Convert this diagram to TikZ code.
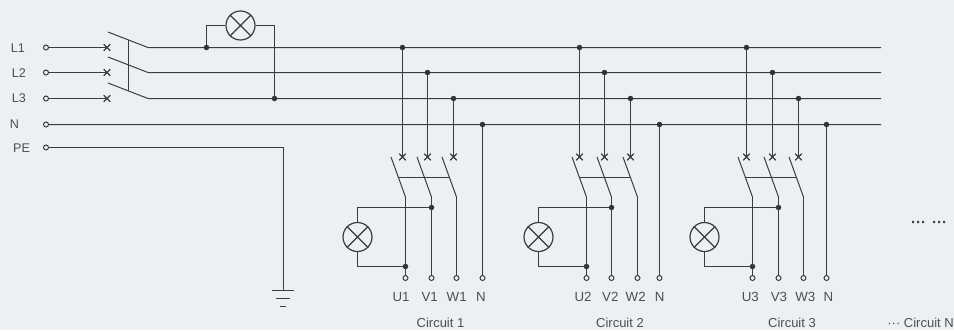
\documentclass[tikz,border=0pt]{standalone}
\usepackage{fontspec}
\setmainfont{Liberation Sans}
\usetikzlibrary{calc}
\definecolor{bgc}{HTML}{ECEFF3}
\definecolor{wirec}{HTML}{3C3C3C}
\definecolor{textc}{HTML}{4D4F52}
\tikzset{
  wire/.style={draw=wirec,line width=1pt},
  term/.style={circle,draw=wirec,line width=1pt,fill=bgc,inner sep=0pt,minimum size=5pt},
  jdot/.style={circle,fill=black!80,inner sep=0pt,minimum size=5.5pt},
  lamp/.style={circle,draw=wirec,line width=1.2pt,inner sep=0pt,minimum size=29pt},
  lbl/.style={text=textc,font=\fontsize{12.6}{14}\selectfont,inner sep=0pt,anchor=base},
  ulbl/.style={text=textc,font=\fontsize{13.3}{15}\selectfont,inner sep=0pt,anchor=base},
  captxt/.style={text=textc,font=\fontsize{13}{15}\selectfont,inner sep=0pt,anchor=base}
}
\newcommand{\lampx}[1]{\draw[wire,line width=1.2pt] (#1.north west)--(#1.south east) (#1.north east)--(#1.south west);}
\newcommand{\xmark}[1]{\draw[wire,line width=1.2pt] ($(#1)+(-3.3,-3.3)$)--($(#1)+(3.3,3.3)$) ($(#1)+(3.3,-3.3)$)--($(#1)+(-3.3,3.3)$);}
% #1 id, #2 #3 #4 cross x, #5 #6 #7 lower x, #8 N x, #9 lamp x
\newcommand{\circuit}[9]{%
  \coordinate (b1#1) at (#2,47.5);\coordinate (b2#1) at (#3,72.5);\coordinate (b3#1) at (#4,98.5);
  \node[jdot] (j1#1) at (b1#1) {};\node[jdot] (j2#1) at (b2#1) {};\node[jdot] (j3#1) at (b3#1) {};
  \node[jdot] (jn#1) at (#8,124.5) {};
  \coordinate (c1#1) at (#2,157);\coordinate (c2#1) at (#3,157);\coordinate (c3#1) at (#4,157);
  \draw[wire] (j1#1)--(c1#1) (j2#1)--(c2#1) (j3#1)--(c3#1);
  \xmark{c1#1}\xmark{c2#1}\xmark{c3#1}
  \coordinate (h1#1) at (#5,197);\coordinate (h2#1) at (#6,197);\coordinate (h3#1) at (#7,197);
  \coordinate (s1#1) at (#5-14.5,157);\coordinate (s2#1) at (#6-14.5,157);\coordinate (s3#1) at (#7-14.5,157);
  \draw[wire] (s1#1)--(h1#1) (s2#1)--(h2#1) (s3#1)--(h3#1);
  \coordinate (ta#1) at ($(s1#1)!0.52!(h1#1)$);\coordinate (tb#1) at ($(s3#1)!0.52!(h3#1)$);
  \draw[wire] (ta#1)--(tb#1);
  \node[term] (t1#1) at (#5,278) {};\node[term] (t2#1) at (#6,278) {};\node[term] (t3#1) at (#7,278) {};\node[term] (tn#1) at (#8,278) {};
  \node[jdot] (lt#1) at (#6,207.5) {};\node[jdot] (lb#1) at (#5,266.5) {};
  \draw[wire] (h1#1)--(t1#1) (h2#1)--(t2#1) (h3#1)--(t3#1) (jn#1)--(tn#1);
  \node[lamp] (lamp#1) at (#9,237) {};\lampx{lamp#1}
  \draw[wire] (lamp#1.north) -- (lamp#1.north |- lt#1) -- (lt#1);
  \draw[wire] (lamp#1.south) -- (lamp#1.south |- lb#1) -- (lb#1);
}
\begin{document}
\begin{tikzpicture}[x=1pt,y=-1pt]
\fill[bgc] (0,0) rectangle (954,330);
\useasboundingbox (0,0) rectangle (954,330);
% left labels
\node[lbl] (L1) at (18,52) {L1};
\node[lbl] (L2) at (19,77) {L2};
\node[lbl] (L3) at (19,102.5) {L3};
\node[lbl] (LN) at (14.5,128) {N};
\node[lbl] (LPE) at (21.5,152.5) {PE};
\node[term] (T1) at (46,47.5) {};
\node[term] (T2) at (46,72.5) {};
\node[term] (T3) at (46,98.5) {};
\node[term] (TN) at (46,124.5) {};
\node[term] (TP) at (46,147.5) {};
\coordinate (x1) at (107,47.5);\coordinate (x2) at (107,72.5);\coordinate (x3) at (107,98.5);
\draw[wire] (T1)--(x1) (T2)--(x2) (T3)--(x3);
\xmark{x1}\xmark{x2}\xmark{x3}
% main switch
\coordinate (m1) at (108,32);\coordinate (m2) at (108,57);\coordinate (m3) at (108,83);
\coordinate (b1) at (148,47.5);\coordinate (b2) at (148,72.5);\coordinate (b3) at (148,98.5);
\coordinate (e1) at (881,47.5);\coordinate (e2) at (881,72.5);\coordinate (e3) at (881,98.5);\coordinate (eN) at (881,124.5);
\draw[wire] (m1)--(b1)--(e1) (m2)--(b2)--(e2) (m3)--(b3)--(e3) (TN)--(eN);
\draw[wire] ($(m1)!0.5!(b1)$)--($(m3)!0.5!(b3)$);
% indicator
\node[jdot] (ja) at (206.5,47.5) {};
\node[jdot] (jb) at (274.5,98.5) {};
\node[lamp] (lamp0) at (240.5,25.5) {};\lampx{lamp0}
\draw[wire] (ja)--(ja |- lamp0)--(lamp0.west);
\draw[wire] (jb)--(jb |- lamp0)--(lamp0.east);
% PE and ground
\coordinate (pe) at (283.5,147.5);\coordinate (g1) at (283.5,290.5);
\draw[wire] (TP)--(pe)--(g1);
\draw[wire] (272,290.5)--(294,290.5) (276,298.5)--(290,298.5);
\draw[wire] (280,306.5)--(286,306.5);
% circuits
\circuit{A}{402.5}{427.5}{453.5}{405.5}{431.5}{456.5}{482.5}{357.5}
\circuit{B}{579.5}{604.5}{630.5}{586.5}{611.5}{637.5}{659.5}{538.5}
\circuit{C}{746.5}{772.5}{798.5}{752.5}{778.5}{803.5}{826.5}{704.5}
\node[ulbl] (ua) at (401,301) {U1};\node[ulbl] (va) at (429.7,301) {V1};\node[ulbl] (wa) at (456.7,301) {W1};\node[ulbl] (na) at (481,301) {N};
\node[ulbl] (ub) at (583,301) {U2};\node[ulbl] (vb) at (610.3,301) {V2};\node[ulbl] (wb) at (635.7,301) {W2};\node[ulbl] (nb) at (659.7,301) {N};
\node[ulbl] (uc) at (750.3,301) {U3};\node[ulbl] (vc) at (779,301) {V3};\node[ulbl] (wc) at (805.3,301) {W3};\node[ulbl] (nc) at (828.3,301) {N};
\node[captxt] (ca) at (440.5,327.5) {Circuit 1};
\node[captxt] (cb) at (620,327.5) {Circuit 2};
\node[captxt] (cc) at (792,327.5) {Circuit 3};
\node[captxt,anchor=base east] (cn) at (954,327.5) {··· Circuit N};
\node[text=black!75,inner sep=0pt,font=\fontsize{15}{16}\selectfont\bfseries,anchor=base west] (dots) at (911,227) {···\hspace{6pt}···};
\end{tikzpicture}
\end{document}
